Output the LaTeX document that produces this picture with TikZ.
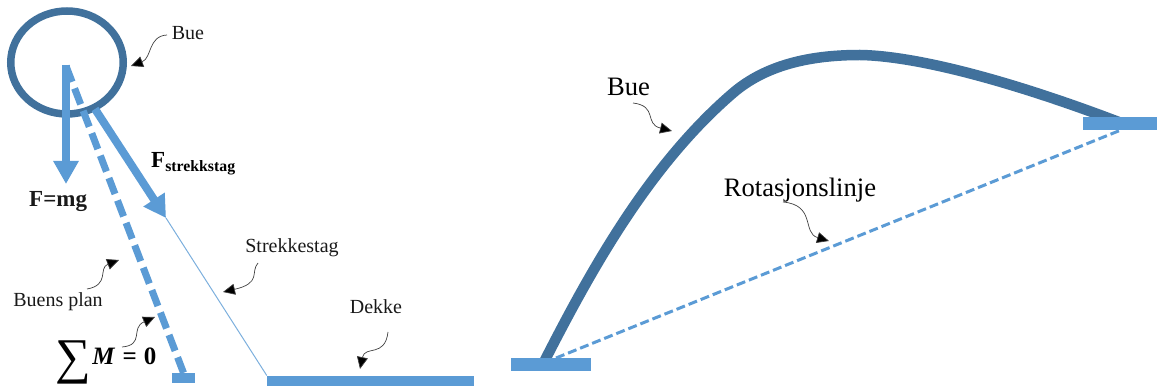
\documentclass[tikz,border=0pt]{standalone}
\usepackage{fontspec}
\usepackage{graphicx}
\setmainfont{Liberation Serif}
\usetikzlibrary{arrows.meta,shapes.geometric,backgrounds}
\definecolor{lightb}{HTML}{5B9BD5}
\definecolor{darkb}{HTML}{41719C}
\tikzset{
  x=1pt,y=-1pt,
  small/.style={font=\fontsize{20}{24}\selectfont,text=black!90,inner sep=0pt},
  large/.style={font=\fontsize{26.6}{30}\selectfont,text=black,inner sep=0pt},
  bar/.style={fill=lightb,draw=none,inner sep=0pt,minimum height=#1},
  force/.style={draw=lightb,line width=8pt,-{Triangle[length=23pt,width=24pt,fill=lightb]}},
  plane/.style={draw=lightb,line width=7pt,dash pattern=on 17pt off 7pt},
  rotline/.style={draw=lightb,line width=3pt,dash pattern=on 9pt off 4pt},
  note/.style={draw=black!75,line width=0.7pt,-{Triangle[length=12pt,width=11pt,fill=black]}},
  bigbar/.style={bar=13pt},
}
\begin{document}
\begin{tikzpicture}
\useasboundingbox (0,0) rectangle (1157,387);
% left figure
\node[draw=darkb,line width=7.5pt,ellipse,minimum width=112.5pt,minimum height=103pt,inner sep=0pt] (ring) at (67,62.5) {};
\coordinate (gstart) at (66,65);
\coordinate (gtip) at (66,184);
\coordinate (pstart) at (66,66);
\coordinate (fstart) at (95,109);
\coordinate (ftip) at (166,218);
\node[bar=10pt,minimum width=23pt] (footbar) at (183.5,378) {};
\node[bar=10.5pt,minimum width=207pt] (deck) at (370.5,381) {};
\draw[force] (gstart) -- (gtip);
\draw[plane] (pstart) -- (footbar.north);
\draw[force,-{Triangle[length=22pt,width=24pt,fill=lightb]}] (fstart) -- (ftip);
\draw[draw=lightb!80,line width=1pt] (ftip) -- (deck.north west);
\node[small] (lbue) at (188,33) {Bue};
\node[small,anchor=base west] (lfmg) at (29,207) {\fontsize{23}{26}\selectfont\bfseries F=mg};
\node[anchor=base west,inner sep=0pt] (lfs) at (151,168) {\fontsize{23}{26}\selectfont\bfseries F\fontsize{15.8}{18}\selectfont\raisebox{-3.5pt}{strekkstag}};
\node[small] (lstag) at (292,248) {Strekkestag};
\node[small] (lplan) at (58,302) {Buens plan};
\node[small] (ldek) at (376,307) {Dekke};
\node[anchor=base west,inner sep=0pt] (lsum) at (55,365) {\raisebox{-9pt}[0pt][0pt]{\fontsize{50}{50}\selectfont ∑}\hspace{1.5pt}\fontsize{25}{28}\selectfont\bfseries\textit{M}\hspace{1pt} = \hspace{1pt}0};
\coordinate (tbue) at (131,66);
\coordinate (tplan) at (119,260);
\coordinate (tsum) at (155,317);
\coordinate (tstag) at (223,292);
\coordinate (tdek) at (360,369);
\coordinate (sbue) at (167,35);
\coordinate (splan) at (87,289);
\coordinate (ssum) at (122,347);
\coordinate (sstag) at (258,263);
\coordinate (sdek) at (388,332);
\draw[note] (sbue) .. controls (148,36) and (152,58) .. (tbue);
\draw[note] (splan) .. controls (110,285) and (98,268) .. (tplan);
\draw[note] (ssum) .. controls (145,345) and (130,328) .. (tsum);
\draw[note] (sstag) .. controls (250,272) and (262,283) .. (tstag);
\draw[note] (sdek) .. controls (385,358) and (365,345) .. (tdek);
% right figure
\node[bigbar,minimum width=80pt] (barL) at (551,364.5) {};
\node[bigbar,minimum width=74pt] (barR) at (1120,123.5) {};
\begin{scope}[on background layer]
\draw[draw=darkb,line width=10.5pt] (544,362) .. controls (590,272) and (648,166) .. (733,93) .. controls (768,63) and (815,55) .. (860,55) .. controls (920,56) and (1020,84) .. (1124,124);
\end{scope}
\coordinate (rstart) at (556,358);
\coordinate (rend) at (1121,130);
\draw[rotline] (rstart) -- (rend);
\node[large] (lbue2) at (628.5,87) {Bue};
\node[large] (lrot) at (800,190) {Rotasjonslinje};
\coordinate (sbue2) at (633,103);
\coordinate (tbue2) at (672,131);
\coordinate (srot) at (783,202);
\coordinate (trot) at (829,241);
\draw[note] (sbue2) .. controls (658,106) and (644,124) .. (tbue2);
\draw[note] (srot) .. controls (816,205) and (802,233) .. (trot);
\end{tikzpicture}
\end{document}
